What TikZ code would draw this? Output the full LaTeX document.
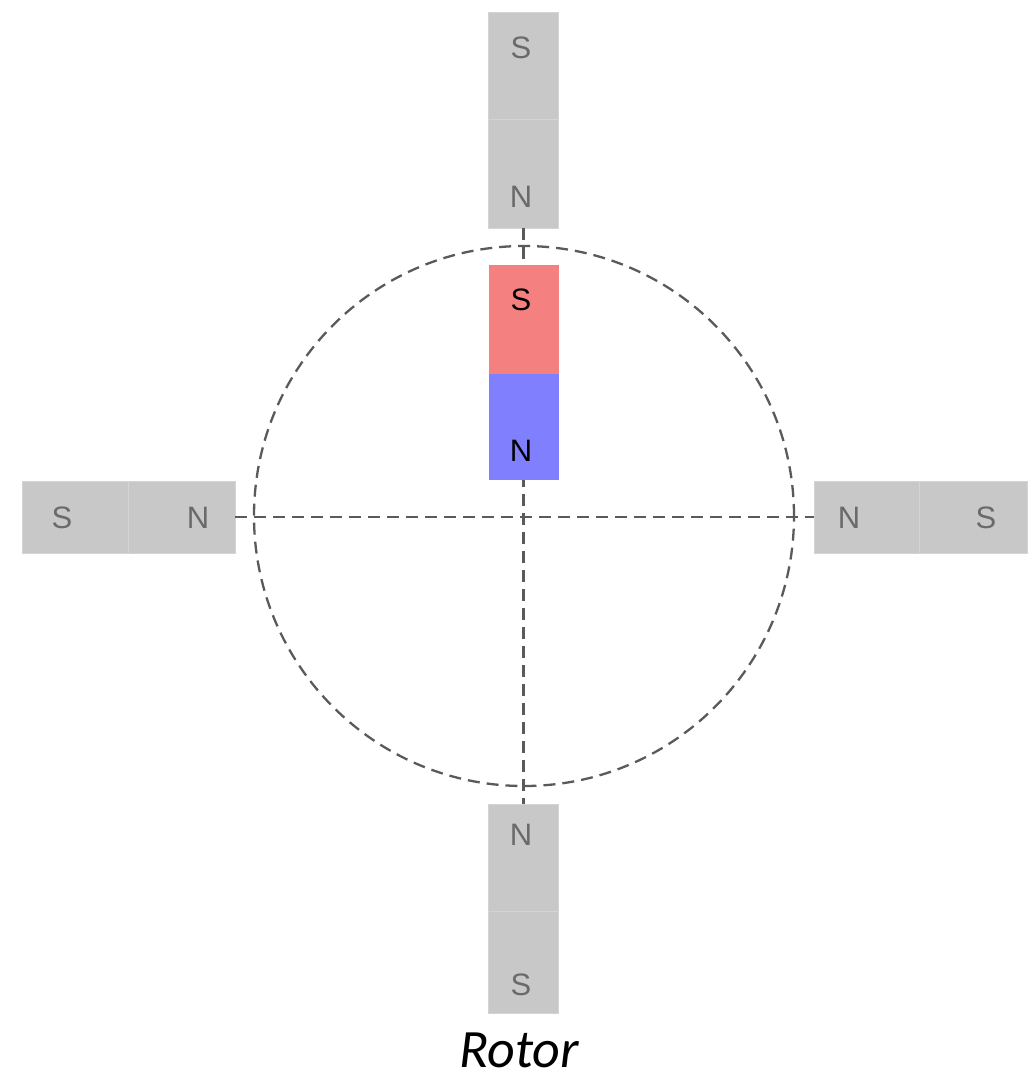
\documentclass[tikz,border=0pt]{standalone}
\usepackage{fontspec}
\setmainfont{Liberation Sans}
\newfontfamily\rotorfont{Carlito}
\definecolor{magray}{HTML}{C8C8C8}
\definecolor{magline}{HTML}{D4D4D4}
\definecolor{maglabel}{HTML}{6A6A6A}
\definecolor{rotred}{HTML}{F48080}
\definecolor{rotblue}{HTML}{8080FF}
\definecolor{dashgray}{HTML}{5A5A5A}
\begin{document}
\begin{tikzpicture}[x=1pt,y=-1pt,
  half/.style={rectangle,inner sep=0pt,outer sep=0pt,fill=magray,draw=magline,line width=0.8pt},
  vhalf/.style={half,minimum width=70pt},
  hhalf/.style={half,minimum height=72pt},
  pole/.style={inner sep=0pt,text=maglabel,font=\fontsize{31}{32}\selectfont},
  rpole/.style={inner sep=0pt,text=black,font=\fontsize{31}{32}\selectfont},
  dashline/.style={draw=dashgray,line width=2.3pt,dash pattern=on 12pt off 7pt}]
\useasboundingbox (0,0) rectangle (1031,1076);
% orbit circle
\node[circle,dashline,minimum size=540pt,inner sep=0pt] (orbit) at (524,516) {};
% stator magnets
\node[vhalf,minimum height=107pt] (tS) at (523.5,65.5) {};
\node[vhalf,minimum height=109pt] (tN) at (523.5,173.5) {};
\node[vhalf,minimum height=107pt] (bN) at (523.5,857.5) {};
\node[vhalf,minimum height=102pt] (bS) at (523.5,962) {};
\node[hhalf,minimum width=106pt] (lS) at (75,517) {};
\node[hhalf,minimum width=107pt] (lN) at (181.5,517) {};
\node[hhalf,minimum width=105pt] (rN) at (866.5,517) {};
\node[hhalf,minimum width=108pt] (rS) at (973,517) {};
% connectors
\draw[dashline] (lN.east) -- (rN.west);
\draw[dashline] (tN.south) -- (bN.north);
% rotor magnet
\node[rectangle,inner sep=0pt,fill=rotred,minimum width=70pt,minimum height=109pt] (rotS) at (523.5,319.5) {};
\node[rectangle,inner sep=0pt,fill=rotblue,minimum width=70pt,minimum height=106pt] (rotN) at (523.5,427) {};
% labels
\node[pole] (tSl) at (521,48) {S};
\node[pole] (tNl) at (521,197) {N};
\node[rpole] (rSl) at (521,300) {S};
\node[rpole] (rNl) at (521,451) {N};
\node[pole] (lSl) at (62,518) {S};
\node[pole] (lNl) at (198,518) {N};
\node[pole] (rNl2) at (849,518) {N};
\node[pole] (rSl2) at (986,518) {S};
\node[pole] (bNl) at (521,835) {N};
\node[pole] (bSl) at (521,985) {S};
\node[inner sep=0pt,font=\rotorfont\itshape\fontsize{54}{56}\selectfont] (rotorlbl) at (519,1050) {Rotor};
\end{tikzpicture}
\end{document}
